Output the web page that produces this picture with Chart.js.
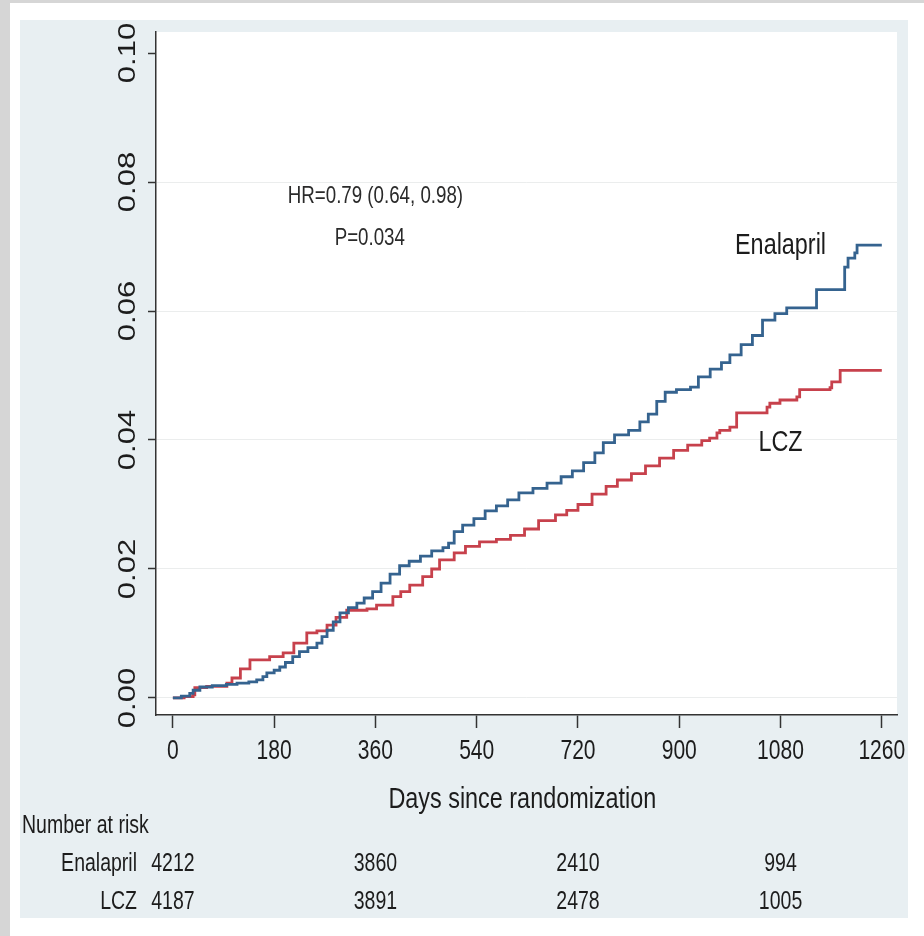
<!DOCTYPE html>
<html>
<head>
<meta charset="utf-8">
<title>Kaplan-Meier: Enalapril vs LCZ</title>
<script src="https://cdn.jsdelivr.net/npm/chart.js@4.4.1/dist/chart.umd.min.js"></script>
<style>
  html, body { margin: 0; padding: 0; background: #ffffff; }
  canvas { display: block; }
</style>
</head>
<body>
<canvas id="km" width="924" height="936"></canvas>
<script>
// Cumulative event probability (Kaplan-Meier steps), days since randomization
const enalaprilDays = [0, 15, 30, 36, 48, 70, 95, 114, 135, 149, 160, 167, 180, 190, 200, 213, 225, 240, 256, 265,
  274, 285, 297, 312, 327, 340, 355, 370, 386, 403, 420, 440, 460, 480, 490, 500, 515, 535, 555, 575,
  595, 615, 640, 665, 690, 710, 730, 750, 765, 785, 810, 830, 845, 860, 875, 895, 920, 934, 955, 975,
  990, 1010, 1030, 1048, 1070, 1091, 1144, 1194, 1200, 1212, 1216, 1260];
const enalaprilRisk = [0, .0003, .0007, .0012, .0017, .0019, .0021, .0023, .0025, .0028, .0033, .0039, .0043, .0048, .0055, .0064, .0072, .0078, .0085, .0095,
  .0105, .0118, .0132, .0140, .0147, .0155, .0165, .0178, .0192, .0205, .0212, .0220, .0228, .0233, .0240, .0258, .0268, .0278, .0290, .0298,
  .0307, .0318, .0325, .0333, .0343, .0352, .0365, .0380, .0396, .0408, .0415, .0428, .0440, .0460, .0474, .0478, .0482, .0498, .0510, .0520,
  .0532, .0548, .0562, .0586, .0596, .0605, .0633, .0668, .0682, .0690, .0702, .0702];

const lczDays = [0, 20, 36, 39, 60, 96, 105, 120, 137, 172, 196, 215, 238, 256, 274, 290, 309, 345, 362, 391,
  405, 421, 444, 460, 474, 500, 520, 545, 575, 600, 625, 650, 680, 700, 720, 745, 770, 790, 815, 840,
  865, 890, 915, 940, 954, 967, 972, 990, 1002, 1056, 1061, 1079, 1109, 1114, 1168, 1171, 1186, 1260];
const lczRisk = [0, .0002, .0005, .0016, .0018, .0023, .0031, .0045, .0059, .0064, .0070, .0085, .0101, .0104, .0113, .0125, .0136, .0138, .0144, .0157,
  .0165, .0175, .0188, .0200, .0214, .0225, .0235, .0242, .0246, .0252, .0262, .0275, .0284, .0291, .0300, .0316, .0328, .0338, .0348, .0360,
  .0372, .0384, .0392, .0399, .0403, .0411, .0415, .0420, .0442, .0451, .0457, .0462, .0467, .0478, .0481, .0490, .0508, .0508];

const seriesNames = ['Enalapril', 'LCZ'];
const xTicks = [0, 180, 360, 540, 720, 900, 1080, 1260];
const yTicks = [0, 0.02, 0.04, 0.06, 0.08, 0.10];
const yTickLabels = ['0.00', '0.02', '0.04', '0.06', '0.08', '0.10'];
const xTitle = 'Days since randomization';
const hrText = 'HR=0.79 (0.64, 0.98)';
const pText = 'P=0.034';

// Number at risk table
const riskTitle = 'Number at risk';
const riskDays = [0, 360, 720, 1080];
const riskEnalapril = [4212, 3860, 2410, 994];
const riskLCZ = [4187, 3891, 2478, 1005];

const FONT = '"Liberation Sans", Arial, Helvetica, sans-serif';
const SQUEEZE = 0.78;   // condensed lettering
const INK = '#1c1c1c';

function squeezedText(ctx, str, x, y, size, align, color) {
  ctx.save();
  ctx.font = size + 'px ' + FONT;
  ctx.fillStyle = color || INK;
  ctx.textAlign = align;
  ctx.textBaseline = 'middle';
  ctx.translate(x, y);
  ctx.scale(SQUEEZE, 1);
  ctx.fillText(str, 0, 0);
  ctx.restore();
}

function rotatedText(ctx, str, x, y, size, color) {
  ctx.save();
  ctx.font = size + 'px ' + FONT;
  ctx.fillStyle = color || INK;
  ctx.textAlign = 'center';
  ctx.textBaseline = 'middle';
  ctx.translate(x, y);
  ctx.rotate(-Math.PI / 2);
  ctx.scale(1, SQUEEZE);
  ctx.fillText(str, 0, 0);
  ctx.restore();
}

const framePlugin = {
  id: 'frame',
  beforeDraw(chart) {
    const ctx = chart.ctx;
    const a = chart.chartArea;
    ctx.save();
    ctx.fillStyle = '#ffffff';
    ctx.fillRect(0, 0, chart.width, chart.height);
    // outer grey margin
    ctx.fillStyle = '#d6d6d6';
    ctx.fillRect(0, 0, chart.width, 3);
    ctx.fillRect(0, 0, 10, chart.height);
    // graph region
    ctx.fillStyle = '#e8eff2';
    ctx.fillRect(20, 20, 888, 898);
    // plot region
    ctx.fillStyle = '#ffffff';
    ctx.fillRect(a.left, a.top, a.right - a.left, a.bottom - a.top);
    ctx.restore();
  },
  afterDraw(chart) {
    const ctx = chart.ctx;
    const xs = chart.scales.x;
    const ys = chart.scales.y;

    // y tick labels, rotated
    yTicks.forEach((v, i) => rotatedText(ctx, yTickLabels[i], 128, ys.getPixelForValue(v), 31));

    // x tick labels
    xTicks.forEach(v => squeezedText(ctx, String(v), xs.getPixelForValue(v), 752, 27, 'center'));

    // x axis title
    squeezedText(ctx, xTitle, (xs.getPixelForValue(0) + xs.getPixelForValue(1260)) / 2 - 5, 800, 30, 'center');

    // hazard ratio annotation
    squeezedText(ctx, hrText, xs.getPixelForValue(360), ys.getPixelForValue(0.0777), 24, 'center', '#2a2a2a');
    squeezedText(ctx, pText, xs.getPixelForValue(350), ys.getPixelForValue(0.0713), 24, 'center', '#2a2a2a');

    // curve labels
    squeezedText(ctx, seriesNames[0], xs.getPixelForValue(1080), ys.getPixelForValue(0.0701), 30, 'center');
    squeezedText(ctx, seriesNames[1], xs.getPixelForValue(1080), ys.getPixelForValue(0.0395), 30, 'center');

    // number at risk
    squeezedText(ctx, riskTitle, 22, 826, 25, 'left');
    squeezedText(ctx, seriesNames[0], 137, 864, 25, 'right');
    squeezedText(ctx, seriesNames[1], 137, 902, 25, 'right');
    riskDays.forEach((d, i) => {
      const px = xs.getPixelForValue(d);
      squeezedText(ctx, String(riskEnalapril[i]), px, 864, 25, 'center');
      squeezedText(ctx, String(riskLCZ[i]), px, 902, 25, 'center');
    });
  }
};

const toPoints = (days, vals) => days.map((d, i) => ({ x: d, y: vals[i] }));

new Chart(document.getElementById('km'), {
  type: 'line',
  data: {
    datasets: [
      {
        label: seriesNames[0],
        data: toPoints(enalaprilDays, enalaprilRisk),
        borderColor: '#35638f',
        borderWidth: 2.8,
        pointRadius: 0,
        stepped: true,
        fill: false
      },
      {
        label: seriesNames[1],
        data: toPoints(lczDays, lczRisk),
        borderColor: '#c7414c',
        borderWidth: 2.8,
        pointRadius: 0,
        stepped: true,
        fill: false
      }
    ]
  },
  options: {
    responsive: false,
    animation: false,
    devicePixelRatio: 1,
    layout: { padding: { top: 32, right: 27, bottom: 0, left: 0 } },
    plugins: {
      legend: { display: false },
      tooltip: { enabled: false },
      title: { display: false }
    },
    scales: {
      x: {
        type: 'linear',
        min: -30,
        max: 1287,
        afterBuildTicks: s => { s.ticks = xTicks.map(v => ({ value: v })); },
        afterFit: s => { s.height = 221; },
        ticks: { display: false },
        grid: { drawOnChartArea: false, drawTicks: true, tickLength: 13, tickColor: '#333333', tickWidth: 1.5 },
        border: { display: true, color: '#333333', width: 1.5 }
      },
      y: {
        type: 'linear',
        min: -0.00264,
        max: 0.10326,
        afterBuildTicks: s => { s.ticks = yTicks.map(v => ({ value: v })); },
        afterFit: s => { s.width = 156; },
        ticks: { display: false },
        grid: {
          drawOnChartArea: true,
          color: ctx => (ctx.tick && ctx.tick.value >= 0.1 ? 'rgba(0,0,0,0)' : '#ebeded'),
          lineWidth: 1,
          drawTicks: true,
          tickLength: 8,
          tickColor: '#333333',
          tickWidth: 1.5
        },
        border: { display: true, color: '#333333', width: 1.5 }
      }
    }
  },
  plugins: [framePlugin]
});
</script>
</body>
</html>
